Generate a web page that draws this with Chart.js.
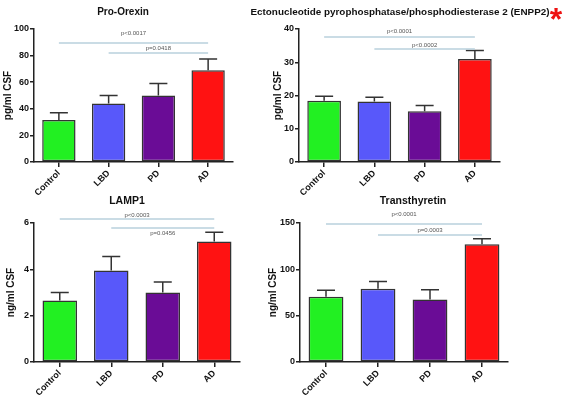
<!DOCTYPE html>
<html>
<head>
<meta charset="utf-8">
<script src="https://cdn.jsdelivr.net/npm/chart.js@4"></script>
<style>
  html, body { margin: 0; padding: 0; background: #fff; }
  #wrap { position: relative; width: 567px; height: 401px; }
  #wrap canvas { position: absolute; left: 0; top: 0; }
</style>
</head>
<body>
<div id="wrap">
  <canvas id="c1" width="567" height="401"></canvas>
  <canvas id="c2" width="567" height="401"></canvas>
  <canvas id="c3" width="567" height="401"></canvas>
  <canvas id="c4" width="567" height="401"></canvas>
</div>
<script>
const groups = ['Control', 'LBD', 'PD', 'AD'];
const barColors = ['#22f022', '#5858fa', '#6a0c96', '#ff1212'];

const proOrexinMean = [31.5, 44, 50, 69];
const proOrexinSem = [5.5, 6, 9, 8.5];
const proOrexinSig = [
  { a: 0, b: 3, level: 89.5, textLevel: 97, text: 'p<0.0017' },
  { a: 1, b: 3, level: 82, textLevel: 85.7, text: 'p=0.0418' }
];

const enppMean = [18.4, 18.2, 15.3, 31];
const enppSem = [1.4, 1.3, 1.7, 2.5];
const enppSig = [
  { a: 0, b: 3, level: 37.6, textLevel: 39.4, text: 'p<0.0001' },
  { a: 1, b: 3, level: 34, textLevel: 35.2, text: 'p<0.0002' }
];

const lampMean = [2.65, 3.95, 3.0, 5.2];
const lampSem = [0.35, 0.6, 0.45, 0.4];
const lampSig = [
  { a: 0, b: 3, level: 6.17, textLevel: 6.35, text: 'p<0.0003' },
  { a: 1, b: 3, level: 5.78, textLevel: 5.57, text: 'p=0.0456' }
];

const ttrMean = [70.5, 79, 67.5, 127];
const ttrSem = [7, 8, 10.5, 6];
const ttrSig = [
  { a: 0, b: 3, level: 149, textLevel: 159.7, text: 'p<0.0001' },
  { a: 1, b: 3, level: 137, textLevel: 142.4, text: 'p=0.0003' }
];

const FONT = '"Liberation Sans", Arial, sans-serif';

const panels = [
  { id: 'c1', title: 'Pro-Orexin', titleX: 123, titleY: 12, titleSize: 10, yLabel: 'pg/ml CSF', yLabelX: 8,
    area: { l: 34, r: 233, t: 29, b: 162 }, yMax: 100, step: 20,
    mean: proOrexinMean, sem: proOrexinSem, sig: proOrexinSig, star: false },
  { id: 'c2', title: 'Ectonucleotide pyrophosphatase/phosphodiesterase 2 (ENPP2)', titleX: 400, titleY: 12,
    titleSize: 9.9, yLabel: 'pg/ml CSF', yLabelX: 278,
    area: { l: 299, r: 500, t: 29, b: 162 }, yMax: 40, step: 10,
    mean: enppMean, sem: enppSem, sig: enppSig, star: true },
  { id: 'c3', title: 'LAMP1', titleX: 127, titleY: 201, titleSize: 10.5, yLabel: 'ng/ml CSF', yLabelX: 11,
    area: { l: 34, r: 240, t: 223, b: 362 }, yMax: 6, step: 2,
    mean: lampMean, sem: lampSem, sig: lampSig, star: false },
  { id: 'c4', title: 'Transthyretin', titleX: 413, titleY: 201, titleSize: 10.5, yLabel: 'ng/ml CSF', yLabelX: 273,
    area: { l: 300, r: 508, t: 223, b: 362 }, yMax: 150, step: 50,
    mean: ttrMean, sem: ttrSem, sig: ttrSig, star: false }
];

const Y_AXIS_W = 22;
const X_AXIS_H = 40;

// error bars, significance lines, titles and axis label
const extras = {
  id: 'extras',
  afterDatasetsDraw(chart, args, opts) {
    const p = opts.panel;
    const ctx = chart.ctx;
    const ys = chart.scales.y;
    const xs = chart.scales.x;
    const meta = chart.getDatasetMeta(0);

    ctx.save();
    ctx.strokeStyle = '#333';
    ctx.lineWidth = 1.5;
    meta.data.forEach((bar, i) => {
      const top = ys.getPixelForValue(p.mean[i] + p.sem[i]);
      ctx.beginPath();
      ctx.moveTo(bar.x, bar.y);
      ctx.lineTo(bar.x, top);
      ctx.moveTo(bar.x - 9, top);
      ctx.lineTo(bar.x + 9, top);
      ctx.stroke();
    });

    ctx.strokeStyle = '#b9d0dc';
    ctx.lineWidth = 1.5;
    ctx.fillStyle = '#555';
    ctx.font = '6px ' + FONT;
    ctx.textAlign = 'center';
    ctx.textBaseline = 'middle';
    p.sig.forEach(s => {
      const x1 = xs.getPixelForValue(s.a);
      const x2 = xs.getPixelForValue(s.b);
      const y = ys.getPixelForValue(s.level);
      ctx.beginPath();
      ctx.moveTo(x1, y);
      ctx.lineTo(x2, y);
      ctx.stroke();
      ctx.fillText(s.text, (x1 + x2) / 2, ys.getPixelForValue(s.textLevel));
    });

    ctx.fillStyle = '#111';
    ctx.font = 'bold ' + p.titleSize + 'px ' + FONT;
    ctx.fillText(p.title, p.titleX, p.titleY);

    ctx.save();
    ctx.translate(p.yLabelX, (p.area.t + p.area.b) / 2);
    ctx.rotate(-Math.PI / 2);
    ctx.font = 'bold 10px ' + FONT;
    ctx.fillText(p.yLabel, 0, 0);
    ctx.restore();

    if (p.star) {
      ctx.fillStyle = '#ee1111';
      ctx.font = 'bold 32px ' + FONT;
      ctx.fillText('*', 556, 21);
    }
    ctx.restore();
  }
};

panels.forEach(p => {
  new Chart(document.getElementById(p.id), {
    type: 'bar',
    data: {
      labels: groups,
      datasets: [{
        data: p.mean,
        backgroundColor: barColors,
        borderColor: '#333',
        borderWidth: 1.5,
        borderSkipped: false,
        barPercentage: 0.67,
        categoryPercentage: 1
      }]
    },
    options: {
      responsive: false,
      animation: false,
      layout: {
        padding: {
          left: p.area.l - Y_AXIS_W,
          right: 567 - p.area.r,
          top: p.area.t,
          bottom: 401 - p.area.b - X_AXIS_H
        }
      },
      plugins: {
        legend: { display: false },
        tooltip: { enabled: false },
        extras: { panel: p }
      },
      scales: {
        x: {
          offset: true,
          grid: { offset: false, drawOnChartArea: false, drawTicks: true, tickLength: 5, color: '#222', lineWidth: 1.5 },
          border: { display: true, color: '#222', width: 1.5 },
          ticks: {
            color: '#111', minRotation: 45, maxRotation: 45, autoSkip: false, padding: 1,
            font: { family: FONT, size: 9, weight: 'bold' }
          },
          afterFit(scale) { scale.height = X_AXIS_H; }
        },
        y: {
          min: 0,
          max: p.yMax,
          grid: { drawOnChartArea: false, drawTicks: true, tickLength: 4, color: '#222', lineWidth: 1.5 },
          border: { display: true, color: '#222', width: 1.5 },
          ticks: {
            stepSize: p.step, color: '#111', padding: 1,
            font: { family: FONT, size: 9, weight: 'bold' }
          },
          afterFit(scale) { scale.width = Y_AXIS_W; }
        }
      }
    },
    plugins: [extras]
  });
});
</script>
</body>
</html>
